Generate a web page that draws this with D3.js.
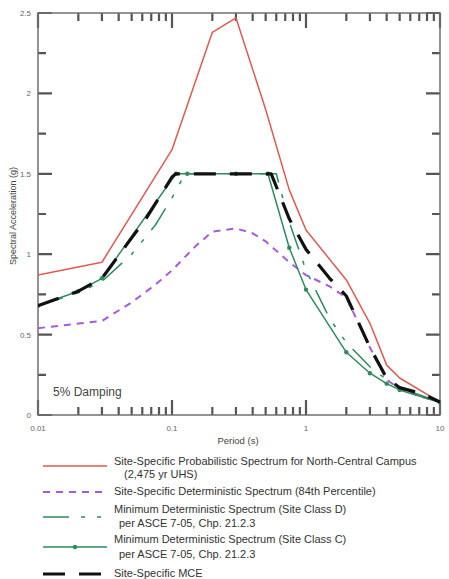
<!DOCTYPE html>
<html><head><meta charset="utf-8">
<script src="https://cdn.jsdelivr.net/npm/d3@7"></script>
<style>body{margin:0;background:#fff}svg{display:block}</style>
</head><body><svg id="c" width="449" height="579"></svg>
<script>
// ---- data ----
const periodTicks = [0.01, 0.1, 1, 10];
const periodTickLabels = ["0.01", "0.1", "1", "10"];
const accelTicks = [0, 0.5, 1, 1.5, 2, 2.5];
const accelTickLabels = ["0", "0.5", "1", "1.5", "2", "2.5"];
const accelMinorTicks = [0.25, 0.75, 1.25, 1.75, 2.25];

const probT  = [0.01, 0.03, 0.1, 0.2, 0.3, 0.5, 0.75, 1, 2, 3, 4, 5, 10];
const probSa = [0.87, 0.95, 1.65, 2.38, 2.47, 1.90, 1.40, 1.15, 0.84, 0.57, 0.31, 0.23, 0.08];

const detT  = [0.01, 0.03, 0.05, 0.075, 0.1, 0.15, 0.2, 0.3, 0.4, 0.5, 0.75, 1, 1.5, 2, 3, 4, 5, 7.5, 10];
const detSa = [0.54, 0.585, 0.70, 0.81, 0.90, 1.05, 1.14, 1.16, 1.13, 1.08, 0.95, 0.87, 0.80, 0.73, 0.42, 0.22, 0.16, 0.11, 0.08];

const minDT  = [0.01, 0.02, 0.03, 0.05, 0.075, 0.1, 0.125, 0.3, 0.6, 0.75, 1, 1.5, 2, 3, 4, 5, 10];
const minDSa = [0.68, 0.76, 0.83, 1.0, 1.18, 1.35, 1.5, 1.5, 1.5, 1.2, 0.9, 0.6, 0.45, 0.3, 0.22, 0.17, 0.08];

const minCT  = [0.01, 0.02, 0.03, 0.107, 0.13, 0.3, 0.52, 0.75, 1, 2, 3, 4, 5, 10];
const minCSa = [0.68, 0.77, 0.85, 1.5, 1.5, 1.5, 1.5, 1.04, 0.78, 0.39, 0.26, 0.195, 0.156, 0.078];

const mceT  = [0.01, 0.02, 0.03, 0.045, 0.065, 0.1, 0.107, 0.2, 0.3, 0.55, 0.75, 1, 1.5, 2, 3, 4, 5, 7.5, 10];
const mceSa = [0.68, 0.77, 0.85, 1.05, 1.23, 1.48, 1.5, 1.5, 1.5, 1.5, 1.22, 1.03, 0.85, 0.74, 0.42, 0.23, 0.17, 0.13, 0.08];

const legendLabels = [
  ["Site-Specific Probabilistic Spectrum for North-Central Campus", "(2,475 yr UHS)"],
  ["Site-Specific Deterministic Spectrum (84th Percentile)"],
  ["Minimum Deterministic Spectrum (Site Class D)", "per ASCE 7-05, Chp. 21.2.3"],
  ["Minimum Deterministic Spectrum (Site Class C)", "per ASCE 7-05, Chp. 21.2.3"],
  ["Site-Specific MCE"]
];

// ---- chart ----
const svg = d3.select("#c");
const FONT = "'Liberation Sans', Arial, sans-serif";
const L = 38, R = 440, TOP = 13, B = 415;
const x = d3.scaleLog().domain([0.01, 10]).range([L, R]);
const y = d3.scaleLinear().domain([0, 2.5]).range([B, TOP]);

const styles = [
  {color: "#de5a52", width: 1.5, dash: null, marker: false},
  {color: "#a75ad8", width: 2, dash: "7,6", marker: false},
  {color: "#2f8a5e", width: 1.5, dash: "26,12,4,12,4,12", marker: false},
  {color: "#2f8a5e", width: 1.5, dash: null, marker: true},
  {color: "#111", width: 3.2, dash: "22,14", marker: false}
];
const series = [
  {t: probT, s: probSa, st: styles[0]},
  {t: detT, s: detSa, st: styles[1]},
  {t: minDT, s: minDSa, st: styles[2]},
  {t: minCT, s: minCSa, st: styles[3]},
  {t: mceT, s: mceSa, st: styles[4]}
];

// minor x ticks (2..9 per decade)
const minorX = [];
[0.01, 0.1, 1].forEach(dec => { for (let k = 2; k <= 9; k++) minorX.push(dec * k); });

const tickColor = "#555";
const frameColor = "#707070";

// all tick marks in one path each side, built from the scales
function tickPath(segs) {
  return segs.map(s => `M${s[0]},${s[1]}L${s[2]},${s[3]}`).join("");
}
const segs = [];
minorX.forEach(v => { segs.push([x(v), B, x(v), B - 8]); segs.push([x(v), TOP, x(v), TOP + 8]); });
periodTicks.forEach(v => { segs.push([x(v), B, x(v), B - 15]); segs.push([x(v), TOP, x(v), TOP + 15]); });
accelMinorTicks.forEach(v => { segs.push([L, y(v), L + 8, y(v)]); segs.push([R, y(v), R - 8, y(v)]); });
accelTicks.forEach(v => { segs.push([L, y(v), L + 14, y(v)]); segs.push([R, y(v), R - 14, y(v)]); });
svg.append("path").attr("class", "ticks").attr("d", tickPath(segs))
  .attr("fill", "none").attr("stroke", tickColor).attr("stroke-width", 2.2);

// axis frame
svg.append("rect").attr("x", L).attr("y", TOP).attr("width", R - L).attr("height", B - TOP)
  .attr("fill", "none").attr("stroke", frameColor).attr("stroke-width", 1.5);

// tick labels
svg.append("g").selectAll("text").data(periodTicks).join("text")
  .attr("x", d => x(d)).attr("y", 431).attr("text-anchor", "middle")
  .attr("font-family", FONT).attr("font-size", 8).attr("fill", "#666")
  .text((d, i) => periodTickLabels[i]);
svg.append("g").selectAll("text").data(accelTicks).join("text")
  .attr("x", 31).attr("y", d => y(d) + 3).attr("text-anchor", "end")
  .attr("font-family", FONT).attr("font-size", 8).attr("fill", "#666")
  .text((d, i) => accelTickLabels[i]);

// axis titles
svg.append("text").attr("x", 238).attr("y", 444).attr("text-anchor", "middle")
  .attr("font-family", FONT).attr("font-size", 9.5).attr("fill", "#444").text("Period (s)");
svg.append("text").attr("transform", "translate(16,216) rotate(-90)").attr("text-anchor", "middle")
  .attr("font-family", FONT).attr("font-size", 9).attr("fill", "#444").text("Spectral Acceleration (g)");

// curves
svg.append("clipPath").attr("id", "clip").append("rect")
  .attr("x", L).attr("y", TOP).attr("width", R - L).attr("height", B - TOP);
const plot = svg.append("g").attr("clip-path", "url(#clip)");
const line = d3.line().x(d => x(d[0])).y(d => y(d[1]));
series.forEach(sr => {
  const pts = sr.t.map((t, i) => [t, sr.s[i]]);
  plot.append("path").datum(pts).attr("d", line).attr("fill", "none")
    .attr("stroke", sr.st.color).attr("stroke-width", sr.st.width)
    .attr("stroke-dasharray", sr.st.dash).attr("stroke-linejoin", "round");
  if (sr.st.marker) {
    plot.append("g").selectAll("circle").data(pts).join("circle")
      .attr("cx", d => x(d[0])).attr("cy", d => y(d[1])).attr("r", 2.2)
      .attr("fill", sr.st.color);
  }
});

svg.append("text").attr("x", 53).attr("y", 396).attr("font-family", FONT)
  .attr("font-size", 12).attr("fill", "#444").text("5% Damping");

// legend
const legendLineY = [466, 492, 517, 547, 574];
const legendTextY = [[465, 478], [495], [513, 527], [543, 558], [577]];
const legendTextX = [[114, 124], [114], [114, 119], [114, 119], [114]];
const lg = svg.append("g");
styles.forEach((st, i) => {
  lg.append("line").attr("x1", 43).attr("x2", 107).attr("y1", legendLineY[i]).attr("y2", legendLineY[i])
    .attr("stroke", st.color).attr("stroke-width", st.width).attr("stroke-dasharray", st.dash);
  if (st.marker) lg.append("circle").attr("cx", 75).attr("cy", legendLineY[i]).attr("r", 2.2).attr("fill", st.color);
  legendLabels[i].forEach((t, j) => {
    lg.append("text").attr("x", legendTextX[i][j]).attr("y", legendTextY[i][j])
      .attr("font-family", FONT).attr("font-size", 11).attr("fill", "#333").text(t);
  });
});
</script></body></html>
